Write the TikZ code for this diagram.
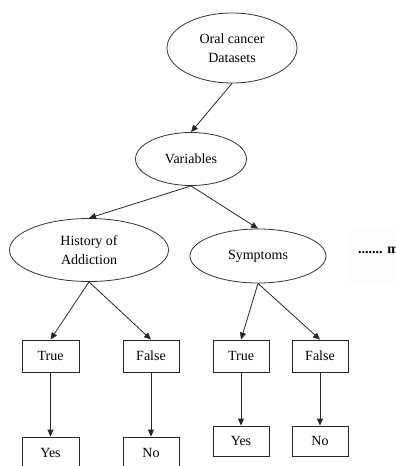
\documentclass[tikz,border=0pt]{standalone}
\usepackage{fontspec}
\setmainfont{Liberation Serif}
\usetikzlibrary{shapes.geometric,arrows.meta}
\begin{document}
\begin{tikzpicture}[x=1pt,y=-1pt,
  ell/.style={ellipse,draw=black!80,line width=0.8pt,inner sep=0pt,align=center,font=\fontsize{14}{19}\selectfont},
  box/.style={rectangle,draw=black!85,line width=0.8pt,inner sep=0pt,minimum width=56pt,minimum height=32pt,font=\fontsize{14}{16}\selectfont},
  arr/.style={-{Triangle[length=7pt,width=6pt]},line width=0.8pt,draw=black!85}]
\useasboundingbox (0,0) rectangle (396,466);
\clip (0,0) rectangle (396,466);
\fill[black!1] (348,230) rectangle (396,283);
\node[ell,minimum width=130pt,minimum height=70pt] (oral) at (232,48) {Oral cancer\\Datasets};
\node[ell,minimum width=111pt,minimum height=53pt] (var) at (191,159) {Variables};
\node[ell,minimum width=159pt,minimum height=63pt] (hist) at (89,250) {History of\\Addiction};
\node[ell,minimum width=136pt,minimum height=54pt] (sym) at (258,256) {Symptoms};
\node[anchor=base west,inner sep=0pt,font=\fontsize{14}{16}\selectfont\bfseries] (more) at (358,253) {....... m};
\node[box,minimum width=57pt] (t1) at (50.5,356) {True};
\node[box] (f1) at (151,356) {False};
\node[box,minimum width=57pt] (y1) at (50.5,453) {Yes};
\node[box] (n1) at (151,453) {No};
\node[box] (t2) at (241,356) {True};
\node[box] (f2) at (320,356) {False};
\node[box,minimum height=30pt] (y2) at (241,441) {Yes};
\node[box,minimum height=30pt] (n2) at (320,441) {No};
\draw[arr] (oral.south) -- (var.north);
\draw[arr] (var.south) -- (hist.north);
\draw[arr] (var.south) -- (sym.north);
\draw[arr] (hist.south) -- (t1.north);
\draw[arr] (hist.south) -- (f1.north);
\draw[arr] (sym.south) -- (t2.north);
\draw[arr] (sym.south) -- (f2.north);
\draw[arr] (t1.south) -- (y1.north);
\draw[arr] (f1.south) -- (n1.north);
\draw[arr] (t2.south) -- (y2.north);
\draw[arr] (f2.south) -- (n2.north);
\end{tikzpicture}
\end{document}
